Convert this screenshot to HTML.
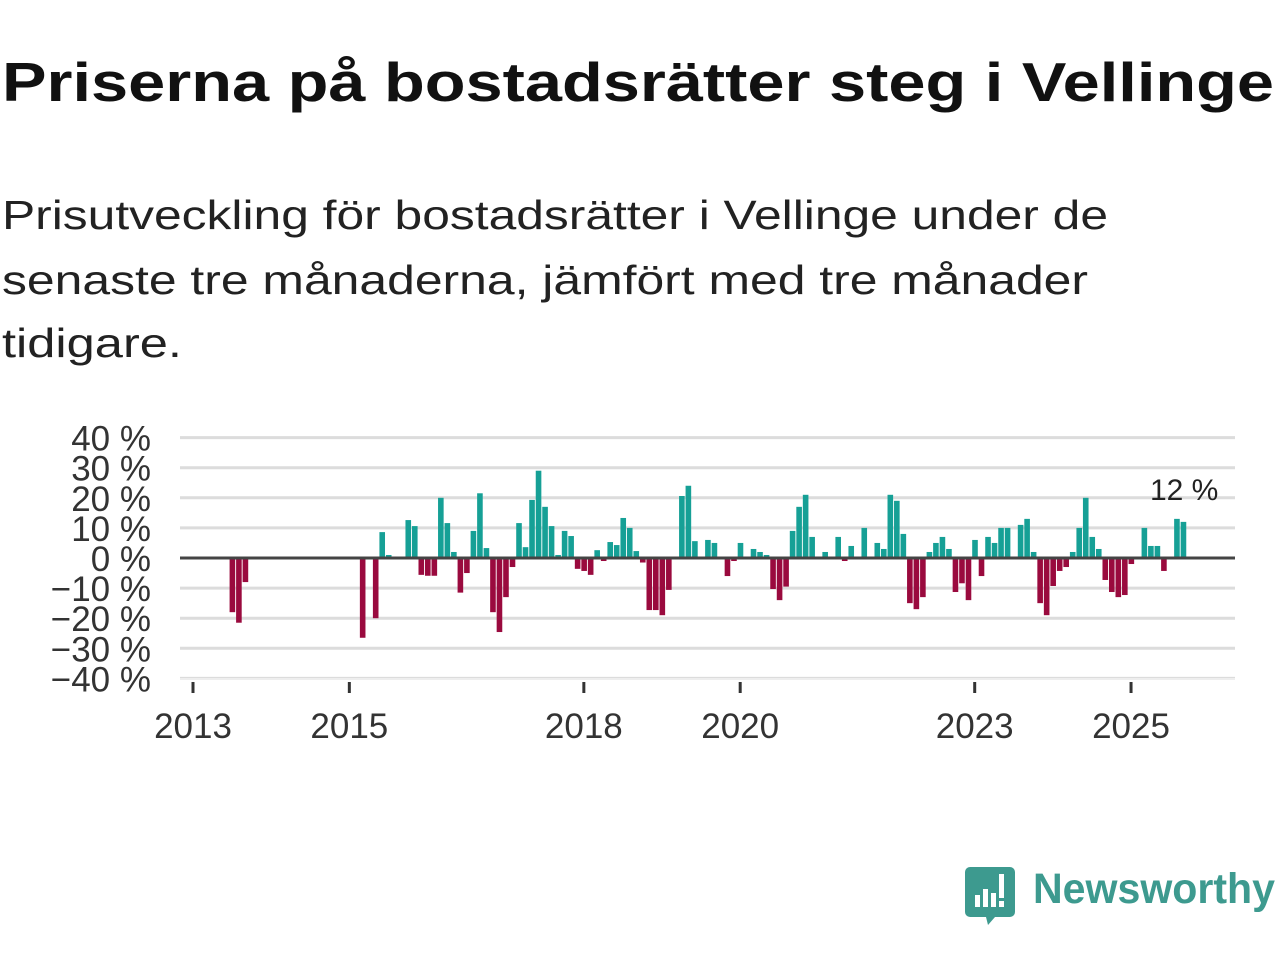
<!DOCTYPE html>
<html><head><meta charset="utf-8"><style>
html,body{margin:0;padding:0;background:#fff;}
svg{display:block;font-family:"Liberation Sans",sans-serif;}
</style></head><body>
<svg id="chart" width="1280" height="960" viewBox="0 0 1280 960">
<text x="2" y="101" font-size="55" font-weight="bold" fill="#111" textLength="1272" lengthAdjust="spacingAndGlyphs">Priserna på bostadsrätter steg i Vellinge</text>
<g font-size="41" fill="#222">
<text x="2" y="229" textLength="1106" lengthAdjust="spacingAndGlyphs">Prisutveckling för bostadsrätter i Vellinge under de</text>
<text x="2" y="294" textLength="1086" lengthAdjust="spacingAndGlyphs">senaste tre månaderna, jämfört med tre månader</text>
<text x="2" y="357" textLength="180" lengthAdjust="spacingAndGlyphs">tidigare.</text>
</g>
<g id="grid"></g>
<g id="yaxis"></g>
<g id="xaxis"></g>
<g id="bars"></g>
<line id="zero"></line>
<text id="lastlabel" font-size="30" fill="#222" text-anchor="middle"></text>
<g>
<path d="M970 867 h40 a5 5 0 0 1 5 5 v40 a5 5 0 0 1 -5 5 h-15 l-7 8 l-2 -8 h-16 a5 5 0 0 1 -5 -5 v-40 a5 5 0 0 1 5 -5z" fill="#3d9a8f"/>
<rect x="975" y="895" width="5" height="12" fill="#fff"/>
<rect x="983" y="889" width="5" height="18" fill="#fff"/>
<rect x="991" y="893" width="5" height="14" fill="#fff"/>
<rect x="999" y="874" width="5" height="24" fill="#fff"/>
<rect x="999" y="901" width="5" height="6" fill="#fff"/>
<text x="1033" y="903" font-size="43" font-weight="bold" fill="#3d9a8f" textLength="242" lengthAdjust="spacingAndGlyphs">Newsworthy</text>
</g>
</svg>
<script>
// months since Jan 2013
const months = [6,7,8,26,28,29,30,33,34,35,36,37,38,39,40,41,42,43,44,45,46,47,48,49,50,51,52,53,54,55,56,57,58,59,60,61,62,63,64,65,66,67,68,69,70,71,72,73,75,76,77,79,80,82,83,84,86,87,88,89,90,91,92,93,94,95,96,97,99,100,101,103,104,105,106,107,108,109,110,111,112,113,114,115,116,117,118,119,120,121,122,123,124,125,126,127,128,129,130,131,132,133,134,135,136,137,138,139,140,141,142,143,144,145,146,147,148,149,151,152];
const values = [-18,-21.5,-8,-26.5,-20,8.6,1,12.6,10.6,-5.6,-5.9,-5.9,20,11.6,2,-11.5,-5,9,21.5,3.3,-18,-24.6,-13,-3,11.6,3.6,19.3,29,17,10.6,1,9,7.3,-3.6,-4.3,-5.6,2.6,-1,5.3,4.3,13.3,10,2.3,-1.5,-17.3,-17.3,-19,-10.6,20.6,24,5.6,6,5,-6,-1,5,3,2,1,-10.3,-14,-9.5,9,17,21,7,0.5,2,7,-1,4,10,0.5,5,3,21,19,8,-15,-17,-13,2,5,7,3,-11.3,-8.4,-14,6,-6,7,5,10,10,0.5,11,13,2,-15,-19,-9.3,-4.3,-3,2,10,20,7,3,-7.3,-11.3,-13,-12.3,-2,0.5,10,4,4,-4.3,13,12];
const yTicks = [40,30,20,10,0,-10,-20,-30,-40];
const yTickLabels = ["40 %","30 %","20 %","10 %","0 %","−10 %","−20 %","−30 %","−40 %"];
const xTickYears = [2013,2015,2018,2020,2023,2025];

const NS = "http://www.w3.org/2000/svg";
const X0 = 193, PXM = 78.17/12;
const xScale = m => X0 + m*PXM;
const yScale = v => 558 - v*3.01;
const yr = y => (y-2013)*12;
function mk(tag, attrs, parent){const e=document.createElementNS(NS,tag);for(const k in attrs)e.setAttribute(k,attrs[k]);parent.appendChild(e);return e;}
const grid=document.getElementById('grid'), ya=document.getElementById('yaxis'), xa=document.getElementById('xaxis'), bars=document.getElementById('bars');
yTicks.forEach((t,i)=>{
  const l=mk('line',{x1:180,x2:1235,y1:yScale(t),y2:yScale(t),stroke:'#dcdcdc','stroke-width':3},grid);
  
  
  const tx=mk('text',{x:151,y:yScale(t)+13,'font-size':35,fill:'#333','text-anchor':'end'},ya);
  tx.textContent=yTickLabels[i];
  
  
});
const bl=mk('line',{x1:180,x2:1235,y1:679,y2:679,stroke:'#eee','stroke-width':2},xa);
xTickYears.forEach(y=>{
  const x=xScale(yr(y));
  const tk=mk('line',{x1:x,x2:x,y1:682,y2:693,stroke:'#333','stroke-width':3},xa);
  
  
  const tx=mk('text',{x:x,y:738,'font-size':35,fill:'#333','text-anchor':'middle'},xa);
  tx.textContent=y;
  
  
});
months.forEach((m,i)=>{
  const v=values[i], x=xScale(m)-2.5, y0=yScale(0), y1=yScale(v);
  const r=mk('rect',{x:x,y:Math.min(y0,y1),width:5.6,height:Math.max(1,Math.abs(y1-y0)),fill:v>=0?'#16a096':'#9a0a3e'},bars);
  
  
});
const z=document.getElementById('zero');
z.setAttribute('x1',180);z.setAttribute('x2',1235);z.setAttribute('y1',yScale(0));z.setAttribute('y2',yScale(0));z.setAttribute('stroke','#444');z.setAttribute('stroke-width',3);
const ll=document.getElementById('lastlabel');
ll.setAttribute('x',xScale(months[months.length-1])+1);
ll.setAttribute('y',yScale(values[values.length-1])-22);
ll.textContent=Math.round(values[values.length-1])+" %";
</script>
</body></html>
